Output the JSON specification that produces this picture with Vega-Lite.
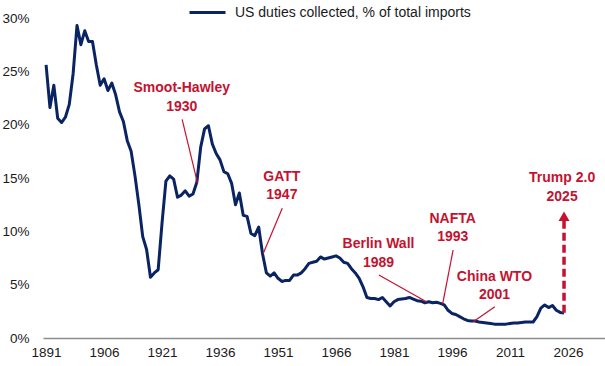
{
  "$schema": "https://vega.github.io/schema/vega-lite/v6.json",
  "width": 562,
  "height": 320,
  "autosize": {"type": "none"},
  "padding": {"left": 43, "top": 18, "right": 0, "bottom": 28},
  "background": "white",
  "config": {
    "view": {"stroke": null},
    "font": "Liberation Sans",
    "axis": {"labelFont": "Liberation Sans", "labelFontSize": 13.5, "labelColor": "#1a1a1a", "title": null, "grid": false, "ticks": false}
  },
  "datasets": {
    "series": [
      {"year": 1891, "value": 25.6}, {"year": 1892, "value": 21.6}, {"year": 1893, "value": 23.7}, {"year": 1894, "value": 20.6},
      {"year": 1895, "value": 20.2}, {"year": 1896, "value": 20.7}, {"year": 1897, "value": 21.9}, {"year": 1898, "value": 24.8},
      {"year": 1899, "value": 29.3}, {"year": 1900, "value": 27.5}, {"year": 1901, "value": 28.8}, {"year": 1902, "value": 27.8},
      {"year": 1903, "value": 27.8}, {"year": 1904, "value": 25.6}, {"year": 1905, "value": 23.7}, {"year": 1906, "value": 24.3},
      {"year": 1907, "value": 23.2}, {"year": 1908, "value": 23.9}, {"year": 1909, "value": 22.8}, {"year": 1910, "value": 21.2},
      {"year": 1911, "value": 20.3}, {"year": 1912, "value": 18.5}, {"year": 1913, "value": 17.5}, {"year": 1914, "value": 15.2},
      {"year": 1915, "value": 12.5}, {"year": 1916, "value": 9.5}, {"year": 1917, "value": 8.3}, {"year": 1918, "value": 5.7},
      {"year": 1919, "value": 6.1}, {"year": 1920, "value": 6.4}, {"year": 1921, "value": 10.8}, {"year": 1922, "value": 14.7},
      {"year": 1923, "value": 15.2}, {"year": 1924, "value": 14.9}, {"year": 1925, "value": 13.2}, {"year": 1926, "value": 13.4},
      {"year": 1927, "value": 13.8}, {"year": 1928, "value": 13.3}, {"year": 1929, "value": 13.5}, {"year": 1930, "value": 14.6},
      {"year": 1931, "value": 17.9}, {"year": 1932, "value": 19.6}, {"year": 1933, "value": 19.9}, {"year": 1934, "value": 18.2},
      {"year": 1935, "value": 17.3}, {"year": 1936, "value": 16.7}, {"year": 1937, "value": 15.6}, {"year": 1938, "value": 15.4},
      {"year": 1939, "value": 14.5}, {"year": 1940, "value": 12.5}, {"year": 1941, "value": 13.6}, {"year": 1942, "value": 11.5},
      {"year": 1943, "value": 11.4}, {"year": 1944, "value": 9.8}, {"year": 1945, "value": 9.6}, {"year": 1946, "value": 10.4},
      {"year": 1947, "value": 7.9}, {"year": 1948, "value": 6.1}, {"year": 1949, "value": 5.8}, {"year": 1950, "value": 6.1},
      {"year": 1951, "value": 5.6}, {"year": 1952, "value": 5.3}, {"year": 1953, "value": 5.4}, {"year": 1954, "value": 5.4},
      {"year": 1955, "value": 5.9}, {"year": 1956, "value": 5.9}, {"year": 1957, "value": 6.1}, {"year": 1958, "value": 6.5},
      {"year": 1959, "value": 7.0}, {"year": 1960, "value": 7.1}, {"year": 1961, "value": 7.2}, {"year": 1962, "value": 7.6},
      {"year": 1963, "value": 7.4}, {"year": 1964, "value": 7.5}, {"year": 1965, "value": 7.6}, {"year": 1966, "value": 7.7},
      {"year": 1967, "value": 7.5}, {"year": 1968, "value": 7.1}, {"year": 1969, "value": 7.0}, {"year": 1970, "value": 6.5},
      {"year": 1971, "value": 6.1}, {"year": 1972, "value": 5.6}, {"year": 1973, "value": 4.8}, {"year": 1974, "value": 3.8},
      {"year": 1975, "value": 3.7}, {"year": 1976, "value": 3.7}, {"year": 1977, "value": 3.6}, {"year": 1978, "value": 3.8},
      {"year": 1979, "value": 3.4}, {"year": 1980, "value": 3.0}, {"year": 1981, "value": 3.4}, {"year": 1982, "value": 3.6},
      {"year": 1983, "value": 3.65}, {"year": 1984, "value": 3.7}, {"year": 1985, "value": 3.8}, {"year": 1986, "value": 3.65},
      {"year": 1987, "value": 3.5}, {"year": 1988, "value": 3.45}, {"year": 1989, "value": 3.3}, {"year": 1990, "value": 3.4},
      {"year": 1991, "value": 3.3}, {"year": 1992, "value": 3.35}, {"year": 1993, "value": 3.25}, {"year": 1994, "value": 3.1},
      {"year": 1995, "value": 2.6}, {"year": 1996, "value": 2.3}, {"year": 1997, "value": 2.2}, {"year": 1998, "value": 2.0},
      {"year": 1999, "value": 1.8}, {"year": 2000, "value": 1.65}, {"year": 2001, "value": 1.6}, {"year": 2002, "value": 1.6},
      {"year": 2003, "value": 1.5}, {"year": 2004, "value": 1.45}, {"year": 2005, "value": 1.4}, {"year": 2006, "value": 1.35},
      {"year": 2007, "value": 1.3}, {"year": 2008, "value": 1.3}, {"year": 2009, "value": 1.3}, {"year": 2010, "value": 1.3},
      {"year": 2011, "value": 1.35}, {"year": 2012, "value": 1.4}, {"year": 2013, "value": 1.4}, {"year": 2014, "value": 1.45},
      {"year": 2015, "value": 1.5}, {"year": 2016, "value": 1.5}, {"year": 2017, "value": 1.5}, {"year": 2018, "value": 2.0},
      {"year": 2019, "value": 2.8}, {"year": 2020, "value": 3.1}, {"year": 2021, "value": 2.85}, {"year": 2022, "value": 3.05},
      {"year": 2023, "value": 2.6}, {"year": 2024, "value": 2.4}, {"year": 2025, "value": 2.35}
    ],
    "labels": [
      {"year": 1926.1, "value": 23.44, "text": "Smoot-Hawley"},
      {"year": 1926.1, "value": 21.7, "text": "1930"},
      {"year": 1952.0, "value": 15.11, "text": "GATT"},
      {"year": 1952.0, "value": 13.41, "text": "1947"},
      {"year": 1977.0, "value": 8.81, "text": "Berlin Wall"},
      {"year": 1977.0, "value": 7.03, "text": "1989"},
      {"year": 1996.2, "value": 11.19, "text": "NAFTA"},
      {"year": 1996.2, "value": 9.45, "text": "1993"},
      {"year": 2007.0, "value": 5.75, "text": "China WTO"},
      {"year": 2007.0, "value": 4.03, "text": "2001"},
      {"year": 2024.5, "value": 14.97, "text": "Trump 2.0"},
      {"year": 2024.5, "value": 13.23, "text": "2025"}
    ],
    "connectors": [
      {"year": 1926.2, "value": 20.5, "year2": 1930.2, "value2": 14.5},
      {"year": 1952.1, "value": 12.16, "year2": 1947.2, "value2": 7.94},
      {"year": 1977.1, "value": 5.91, "year2": 1989.5, "value2": 3.37},
      {"year": 1996.3, "value": 8.25, "year2": 1993.6, "value2": 3.19},
      {"year": 2007.1, "value": 2.94, "year2": 2001.5, "value2": 1.53}
    ],
    "arrow": [
      {"year": 2025.0, "value": 2.37, "value2": 11.0}
    ],
    "arrowhead": [
      {"year": 2025.0, "value": 11.42}
    ]
  },
  "layer": [
    {
      "data": {"name": "series"},
      "mark": {"type": "line", "strokeWidth": 3, "strokeJoin": "round"},
      "encoding": {
        "x": {"field": "year", "type": "quantitative",
          "scale": {"domain": [1890.2, 2035.6], "nice": false, "zero": false},
          "axis": {"values": [1891, 1906, 1921, 1936, 1951, 1966, 1981, 1996, 2011, 2026], "format": "d", "domainColor": "#8c8c8c", "domainWidth": 1.5, "labelPadding": 7, "labelFlush": false, "labelOverlap": false}},
        "y": {"field": "value", "type": "quantitative",
          "scale": {"domain": [0, 30], "nice": false},
          "axis": {"values": [0, 5, 10, 15, 20, 25, 30], "labelExpr": "datum.value + '%'", "domain": false, "labelPadding": 14}},
        "color": {"datum": "US duties collected, % of total imports", "type": "nominal",
          "scale": {"domain": ["US duties collected, % of total imports"], "range": ["#0A2463"]},
          "legend": {"title": null, "orient": "none", "legendX": 145, "legendY": -25, "symbolType": "stroke", "symbolSize": 1296, "symbolStrokeWidth": 3, "labelFont": "Liberation Sans", "labelFontSize": 14, "labelColor": "#1a1a1a", "labelOffset": 8, "labelLimit": 0, "padding": 0}}
      }
    },
    {
      "data": {"name": "connectors"},
      "mark": {"type": "rule", "color": "#C41230", "strokeWidth": 1.2},
      "encoding": {
        "x": {"field": "year", "type": "quantitative"},
        "y": {"field": "value", "type": "quantitative"},
        "x2": {"field": "year2"},
        "y2": {"field": "value2"}
      }
    },
    {
      "data": {"name": "arrow"},
      "mark": {"type": "rule", "color": "#C41230", "strokeWidth": 3.5, "strokeDash": [8, 4]},
      "encoding": {
        "x": {"field": "year", "type": "quantitative"},
        "y": {"field": "value", "type": "quantitative"},
        "y2": {"field": "value2"}
      }
    },
    {
      "data": {"name": "arrowhead"},
      "mark": {"type": "point", "shape": "triangle-up", "filled": true, "size": 121, "color": "#C41230", "opacity": 1},
      "encoding": {
        "x": {"field": "year", "type": "quantitative"},
        "y": {"field": "value", "type": "quantitative"}
      }
    },
    {
      "data": {"name": "labels"},
      "mark": {"type": "text", "font": "Liberation Sans", "fontWeight": "bold", "fontSize": 14, "color": "#C41230", "align": "center", "baseline": "middle"},
      "encoding": {
        "x": {"field": "year", "type": "quantitative"},
        "y": {"field": "value", "type": "quantitative"},
        "text": {"field": "text"}
      }
    }
  ]
}
